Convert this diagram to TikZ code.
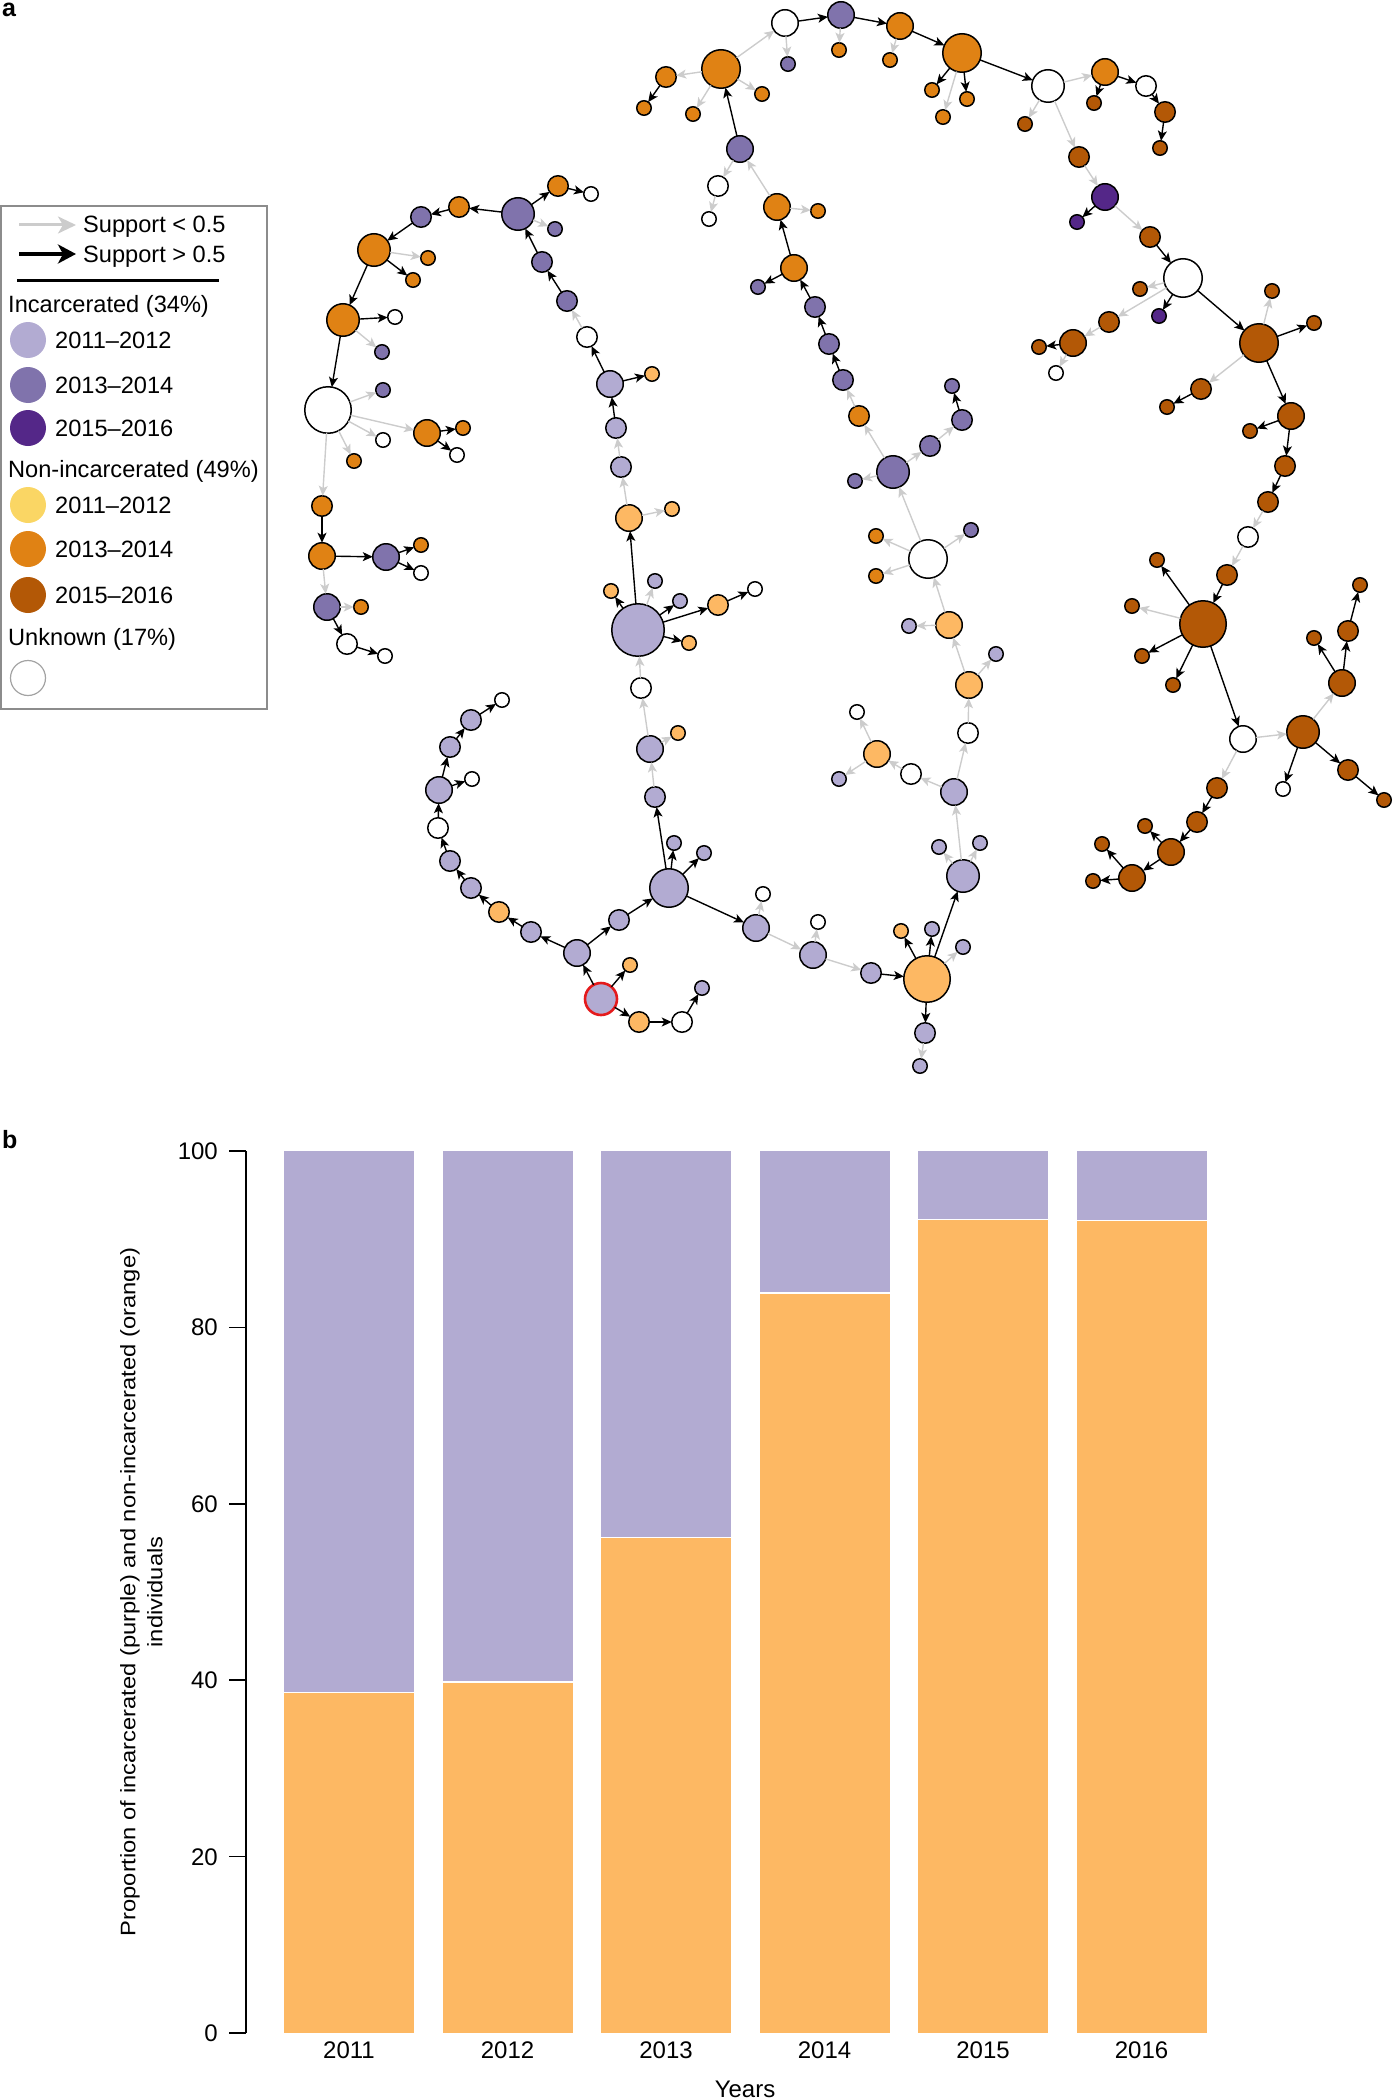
\documentclass[tikz,border=0pt]{standalone}
\usepackage{fontspec}
\setmainfont{Liberation Sans}
\usetikzlibrary{arrows.meta}
\definecolor{cPa}{HTML}{B2ABD2}
\definecolor{cPb}{HTML}{8073AC}
\definecolor{cPc}{HTML}{542788}
\definecolor{cOa}{HTML}{FDB863}
\definecolor{cOb}{HTML}{E08214}
\definecolor{cOc}{HTML}{B35806}
\definecolor{cYl}{HTML}{FAD664}
\definecolor{cGray}{HTML}{CCCCCC}
\definecolor{cBox}{HTML}{8C8C8C}
\definecolor{cRed}{HTML}{E41A1C}
\begin{document}
\begin{tikzpicture}[x=1pt,y=-1pt,
  nd/.style={circle,draw=black,line width=1.5pt,inner sep=0pt,outer sep=0pt},
  bk/.style={draw=black,line width=1.4pt,-{Stealth[length=10pt,width=9pt,inset=2.5pt]}},
  gy/.style={draw=cGray,line width=1.4pt,-{Stealth[length=10pt,width=9pt,inset=2.5pt]}},
  lgt/.style={anchor=base west,font=\fontsize{23.6}{28}\selectfont,inner sep=0pt},
  lgc/.style={circle,inner sep=0pt,minimum size=36pt},
  axt/.style={font=\fontsize{24}{29}\selectfont,inner sep=0pt},
  pl/.style={font=\fontsize{25}{30}\selectfont\bfseries,inner sep=0pt,anchor=base west}]
\useasboundingbox (0,0) rectangle (1394,2100);

% panel labels
\node[pl] (la) at (2,17) {a};
\node[pl] (lb) at (2,1148) {b};

% ---------------- network nodes ----------------
\foreach \nn/\xx/\yy/\rr/\cc in {
 L1/459/207/11/cOb, L2/421/217/11/cPb, L3/374/250/17/cOb, L4/428/258/8/cOb,
 L5/413/280/8/cOb, L6/343/320/17/cOb, L7/395/317/8/white, L8/382/352/8/cPb,
 L9/328/410/24/white, L10/383/390/8/cPb, L11/383/440/8/white, L12/354/461/8/cOb,
 L13/427/433/14/cOb, L14/463/428/8/cOb, L15/457/455/8/white, L16/322/506/11/cOb,
 L17/322/556/14/cOb, L18/386/557/14/cPb, L19/421/545/8/cOb, L20/421/573/8/white,
 L21/327/607/14/cPb, L22/361/607/8/cOb, L23/347/644/11/white, L24/385/656/8/white,
 M1/518/214/17/cPb, M2/558/186/11/cOb, M3/591/194/8/white, M4/555/229/8/cPb,
 M5/542/262/11/cPb, M6/567/301/11/cPb, M7/587/337/11/white, M8/610/384/14/cPa,
 M9/652/374/8/cOa, M10/616/428/11/cPa, M11/621/467/11/cPa, M12/629/518/14/cOa,
 M13/672/509/8/cOa, M14/638/630/27/cPa, M15/611/591/8/cOa, M16/655/581/8/cPa,
 M17/680/601/8/cPa, M18/718/605/11/cOa, M19/755/589/8/white, M20/689/643/8/cOa,
 M21/641/688/11/white,
 B1/650/749/14/cPa, B2/678/733/8/cOa, B3/655/797/11/cPa, B4/669/888/20/cPa,
 B5/674/843/8/cPa, B6/704/853/8/cPa, B7/756/928/14/cPa, B8/763/894/8/white,
 B9/619/920/11/cPa, B10/577/953/14/cPa, B12/630/965/8/cOa,
 B13/639/1022/11/cOa, B14/682/1022/11/white, B15/702/988/8/cPa, B16/531/932/11/cPa,
 B17/499/912/11/cOa, B18/471/888/11/cPa, B19/450/861/11/cPa, B20/438/828/11/white,
 B21/439/790/14/cPa, B22/472/779/8/white, B23/450/747/11/cPa, B24/471/720/11/cPa,
 B25/502/700/8/white,
 C1/813/955/14/cPa, C2/818/922/8/white, C3/871/973/11/cPa, C4/927/979/24/cOa,
 C5/901/931/8/cOa, C6/932/929/8/cPa, C7/963/947/8/cPa, C8/925/1033/11/cPa,
 C9/920/1066/8/cPa, C10/963/876/17/cPa, C11/939/847/8/cPa, C12/980/843/8/cPa,
 C13/954/792/14/cPa, C14/968/733/11/white, C15/969/685/14/cOa, C16/911/774/11/white,
 C17/877/754/14/cOa, C18/857/712/8/white, C19/839/779/8/cPa, C20/949/625/14/cOa,
 C21/909/626/8/cPa, C22/996/654/8/cPa,
 R1/928/559/20/white, R2/971/530/8/cPb, R3/876/536/8/cOb, R4/876/576/8/cOb,
 R5/893/472/17/cPb, R6/855/481/8/cPb, R7/930/446/11/cPb, R8/962/420/11/cPb,
 R9/952/386/8/cPb, R10/859/416/11/cOb, R11/843/380/11/cPb,
 U1/829/344/11/cPb, U2/815/307/11/cPb, U3/794/268/14/cOb, U4/758/287/8/cPb,
 U5/777/207/14/cOb, U6/818/211/8/cOb, U7/740/149/14/cPb, U8/718/186/11/white,
 U9/709/219/8/white,
 T1/721/69/20/cOb, T2/666/77/11/cOb, T3/644/108/8/cOb, T4/693/114/8/cOb,
 T5/762/94/8/cOb, T6/785/23/14/white, T7/841/15/14/cPb, T8/788/64/8/cPb,
 T9/900/26/14/cOb, T10/839/50/8/cOb, T11/890/60/8/cOb, T12/962/53/20/cOb,
 T13/932/90/8/cOb, T14/967/99/8/cOb, T15/943/117/8/cOb, T16/1048/86/17/white,
 T17/1105/72/14/cOb, T18/1094/103/8/cOc, T19/1146/86/11/white, T20/1165/112/11/cOc,
 T21/1160/148/8/cOc, T22/1025/124/8/cOc, T23/1079/157/11/cOc, T24/1105/197/14/cPc,
 T25/1077/222/8/cPc, T26/1150/237/11/cOc, T27/1183/278/20/white, T28/1140/289/8/cOc,
 T29/1159/316/8/cPc, T30/1109/322/11/cOc, T31/1073/343/14/cOc, T32/1039/347/8/cOc,
 T33/1056/373/8/white, T34/1259/343/20/cOc, T35/1272/291/8/cOc, T36/1314/323/8/cOc,
 F1/1201/389/11/cOc, F2/1167/407/8/cOc, F3/1291/416/14/cOc, F4/1250/431/8/cOc,
 F5/1285/466/11/cOc, F6/1268/502/11/cOc, F7/1248/537/11/white, F8/1227/575/11/cOc,
 F9/1203/624/24/cOc, F10/1157/560/8/cOc, F11/1132/606/8/cOc, F12/1142/656/8/cOc,
 F13/1173/685/8/cOc, F14/1243/739/14/white, F15/1303/732/17/cOc, F16/1342/683/14/cOc,
 F17/1348/631/11/cOc, F18/1360/585/8/cOc, F19/1314/638/8/cOc, F20/1283/789/8/white,
 F21/1348/770/11/cOc, F22/1384/800/8/cOc, F23/1217/788/11/cOc, F24/1197/822/11/cOc,
 F25/1171/852/14/cOc, F26/1145/826/8/cOc, F27/1132/878/14/cOc, F28/1102/844/8/cOc,
 F29/1093/881/8/cOc}
 {\node[nd,fill=\cc,minimum size={2*\rr-1.5}] (\nn) at (\xx,\yy) {};}
% start node with red ring
\node[nd,draw=cRed,line width=2.6pt,fill=cPa,minimum size=32pt] (B11) at (601,999) {};

% ---------------- edges: support > 0.5 ----------------
\foreach \aa/\bb in {
 L1/L2, L2/L3, L3/L5, L3/L6, L6/L7, L6/L9, L13/L14, L13/L15, L16/L17, L17/L18,
 L18/L19, L18/L20, L21/L23, L23/L24,
 M1/L1, M1/M2, M2/M3, M5/M1, M6/M5, M8/M7, M8/M9, M10/M8, M14/M12, M14/M15,
 M14/M17, M14/M18, M18/M19, M14/M20,
 B4/B3, B4/B5, B4/B6, B4/B7, B9/B4, B10/B9, B11/B10, B11/B12, B11/B13, B13/B14,
 B14/B15, B10/B16, B16/B17, B17/B18, B18/B19, B19/B20, B20/B21, B21/B22, B21/B23,
 B23/B24, B24/B25,
 C3/C4, C4/C5, C4/C6, C4/C10, C4/C8,
 R8/R9, R11/U1, U1/U2, U2/U3, U3/U4, U3/U5, U7/T1,
 T2/T3, T6/T7, T7/T9, T9/T12, T12/T13, T12/T14, T12/T16, T17/T18, T17/T19,
 T19/T20, T20/T21, T24/T25, T26/T27, T27/T29, T31/T32, T27/T34, T34/T36,
 F1/F2, T34/F3, F3/F4, F3/F5, F5/F6, F8/F9, F9/F10, F9/F12, F9/F13, F9/F14,
 F16/F17, F17/F18, F16/F19, F15/F20, F15/F21, F21/F22, F23/F24, F24/F25,
 F25/F26, F25/F27, F27/F28, F27/F29}
 {\draw[bk] (\aa) -- (\bb);}

% ---------------- edges: support < 0.5 ----------------
\foreach \aa/\bb in {
 L3/L4, L6/L8, L9/L10, L9/L11, L9/L12, L9/L13, L9/L16, L17/L21, L21/L22,
 M1/M4, M7/M6, M11/M10, M12/M11, M12/M13, M14/M16, M21/M14,
 B1/M21, B1/B2, B3/B1, B7/B8,
 B7/C1, C1/C2, C1/C3, C4/C7, C8/C9, C10/C11, C10/C12, C10/C13, C13/C14, C14/C15,
 C13/C16, C16/C17, C17/C18, C17/C19, C15/C20, C20/C21, C15/C22, C20/R1,
 R1/R2, R1/R3, R1/R4, R1/R5, R5/R6, R5/R7, R7/R8, R5/R10, R10/R11,
 U5/U6, U5/U7, U7/U8, U8/U9,
 T1/T2, T1/T4, T1/T5, T1/T6, T6/T8, T7/T10, T9/T11, T12/T15, T16/T17, T16/T22,
 T16/T23, T23/T24, T24/T26, T27/T28, T27/T30, T30/T31, T31/T33, T34/T35,
 T34/F1, F6/F7, F7/F8, F9/F11, F14/F15, F15/F16, F14/F23}
 {\draw[gy] (\aa) -- (\bb);}

% ---------------- legend ----------------
\draw[draw=cBox,line width=1.5pt] (1,206) rectangle (267,709);
\coordinate (ga1) at (19,225); \coordinate (ga2) at (76,225);
\coordinate (ba1) at (19,254); \coordinate (ba2) at (76,254);
\coordinate (ln1) at (17,280); \coordinate (ln2) at (219,280);
\draw[draw=cGray,line width=3pt,-{Stealth[length=18pt,width=17pt,inset=5pt]}] (ga1) -- (ga2);
\draw[draw=black,line width=3.4pt,-{Stealth[length=18pt,width=19pt,inset=5pt]}] (ba1) -- (ba2);
\draw[line width=3pt] (ln1) -- (ln2);
\node[lgt] (lt1) at (83,233) {Support < 0.5};
\node[lgt] (lt2) at (83,262) {Support > 0.5};
\node[lgt] (lt3) at (8,312) {Incarcerated (34\%)};
\node[lgc,fill=cPa] (lc1) at (28,340) {};
\node[lgt] (lt4) at (55,348) {2011--2012};
\node[lgc,fill=cPb] (lc2) at (28,385) {};
\node[lgt] (lt5) at (55,393) {2013--2014};
\node[lgc,fill=cPc] (lc3) at (28,428) {};
\node[lgt] (lt6) at (55,436) {2015--2016};
\node[lgt] (lt7) at (8,477) {Non-incarcerated (49\%)};
\node[lgc,fill=cYl] (lc4) at (28,505) {};
\node[lgt] (lt8) at (55,513) {2011--2012};
\node[lgc,fill=cOb] (lc5) at (28,549) {};
\node[lgt] (lt9) at (55,557) {2013--2014};
\node[lgc,fill=cOc] (lc6) at (28,595) {};
\node[lgt] (lt10) at (55,603) {2015--2016};
\node[lgt] (lt11) at (8,645) {Unknown (17\%)};
\node[lgc,draw=cBox!80,line width=1.2pt,fill=white,minimum size=35pt] (lc7) at (28,678) {};

% ---------------- bar chart ----------------
\foreach \ii/\vv/\yr in {0/38.6/2011,1/39.8/2012,2/56.2/2013,3/83.9/2014,4/92.2/2015,5/92.1/2016}{
  \pgfmathsetmacro{\xl}{284+158.5*\ii}
  \pgfmathsetmacro{\xr}{\xl+130}
  \pgfmathsetmacro{\yb}{2033-8.82*\vv}
  \fill[cPa] (\xl,1151) rectangle (\xr,\yb);
  \fill[cOa] (\xl,\yb) rectangle (\xr,2033);
  \draw[white,line width=1.2pt] (\xl,\yb) -- (\xr,\yb);
  \node[axt,anchor=base] (yr\ii) at ({\xl+65},2058) {\yr};
}
\coordinate (ax1) at (246,1151); \coordinate (ax2) at (246,2033);
\draw[line width=1.5pt] (ax1) -- (ax2);
\foreach \vv in {0,20,40,60,80,100}{
  \pgfmathsetmacro{\yt}{2033-8.82*\vv}
  \draw[line width=1.5pt] (229,\yt) -- (246,\yt);
  \node[axt,anchor=base east] (tk\vv) at (218,{\yt+8.5}) {\vv};
}
\node[axt,rotate=90,font=\fontsize{21}{29}\selectfont] (ylab) at (143,1592)
  {\scalebox{1.13}[1]{\begin{tabular}{@{}c@{}}Proportion of incarcerated (purple) and non-incarcerated (orange)\\[-2pt]individuals\end{tabular}}};
\node[axt,anchor=base] (xlab) at (745,2097) {Years};
\end{tikzpicture}
\end{document}
